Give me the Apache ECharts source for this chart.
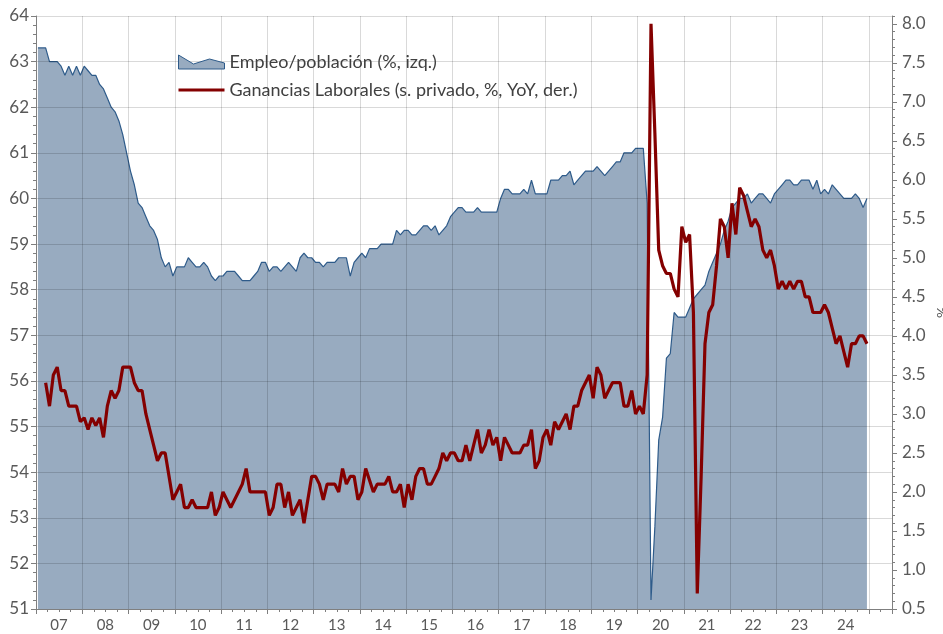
<!DOCTYPE html>
<html>
<head>
<meta charset="utf-8">
<script src="https://cdn.jsdelivr.net/npm/echarts@6/dist/echarts.min.js"></script>
<style>
html,body{margin:0;padding:0;background:#fff;}
#chart{width:943px;height:634px;}
</style>
</head>
<body>
<div id="chart"></div>
<script>
// ---- Data ----
const firstYear = 2007;
const monthCount = 222; // Jan 2007 .. Jun 2025 (axis extent)
const yearLabels = ['07','08','09','10','11','12','13','14','15','16','17','18','19','20','21','22','23','24'];
const seriesNames = ['Empleo/población (%, izq.)', 'Ganancias Laborales (s. privado, %, YoY, der.)'];

// Employment-population ratio, monthly Jan 2007 - Dec 2024 (%)
const epop = [
  63.3,63.3,63.3,63.0,63.0,63.0,62.9,62.7,62.9,62.7,62.9,62.7,
  62.9,62.8,62.7,62.7,62.5,62.4,62.2,62.0,61.9,61.7,61.4,61.0,
  60.6,60.3,59.9,59.8,59.6,59.4,59.3,59.1,58.7,58.5,58.6,58.3,
  58.5,58.5,58.5,58.7,58.6,58.5,58.5,58.6,58.5,58.3,58.2,58.3,
  58.3,58.4,58.4,58.4,58.3,58.2,58.2,58.2,58.3,58.4,58.6,58.6,
  58.4,58.5,58.5,58.4,58.5,58.6,58.5,58.4,58.7,58.8,58.7,58.7,
  58.6,58.6,58.5,58.6,58.6,58.6,58.7,58.7,58.7,58.3,58.6,58.7,
  58.8,58.7,58.9,58.9,58.9,59.0,59.0,59.0,59.0,59.3,59.2,59.3,
  59.3,59.2,59.2,59.3,59.4,59.4,59.3,59.4,59.2,59.3,59.4,59.6,
  59.7,59.8,59.8,59.7,59.7,59.7,59.8,59.7,59.7,59.7,59.7,59.7,
  60.0,60.2,60.2,60.1,60.1,60.1,60.2,60.1,60.4,60.1,60.1,60.1,
  60.1,60.4,60.4,60.4,60.5,60.5,60.6,60.3,60.4,60.5,60.6,60.6,
  60.6,60.7,60.6,60.5,60.6,60.7,60.8,60.8,61.0,61.0,61.0,61.1,
  61.1,61.1,59.9,51.2,52.8,54.7,55.2,56.5,56.6,57.5,57.4,57.4,
  57.4,57.6,57.8,57.9,58.0,58.1,58.4,58.6,58.8,59.0,59.3,59.5,
  59.8,59.9,60.0,60.0,60.1,59.9,60.0,60.1,60.1,60.0,59.9,60.1,
  60.2,60.3,60.4,60.4,60.3,60.3,60.4,60.4,60.4,60.2,60.4,60.1,
  60.2,60.1,60.3,60.2,60.1,60.0,60.0,60.0,60.1,60.0,59.8,60.0
];

// Average hourly earnings, private sector, YoY %, monthly Jan 2007 - Dec 2024
const earnings = [
  null,null,3.4,3.1,3.5,3.6,3.3,3.3,3.1,3.1,3.1,2.9,
  2.95,2.8,2.95,2.85,2.95,2.7,3.1,3.3,3.2,3.3,3.6,3.6,
  3.6,3.4,3.3,3.3,3.0,2.8,2.6,2.4,2.5,2.5,2.2,1.9,
  2.0,2.1,1.8,1.8,1.9,1.8,1.8,1.8,1.8,2.0,1.7,1.8,
  2.0,1.9,1.8,1.9,2.0,2.1,2.3,2.0,2.0,2.0,2.0,2.0,
  1.7,1.8,2.1,2.1,1.8,2.0,1.7,1.8,1.9,1.6,1.9,2.2,
  2.2,2.1,1.9,2.1,2.1,2.1,2.0,2.3,2.1,2.2,2.2,1.9,
  2.0,2.3,2.15,2.0,2.1,2.1,2.1,2.2,2.0,2.0,2.1,1.8,
  2.1,1.9,2.2,2.3,2.3,2.1,2.1,2.2,2.3,2.5,2.4,2.5,
  2.5,2.4,2.4,2.6,2.4,2.6,2.8,2.5,2.6,2.8,2.6,2.7,
  2.4,2.7,2.6,2.5,2.5,2.5,2.6,2.6,2.8,2.3,2.4,2.7,
  2.8,2.6,2.9,2.8,2.9,3.0,2.8,3.1,3.1,3.3,3.4,3.5,
  3.2,3.6,3.5,3.2,3.3,3.4,3.4,3.4,3.1,3.1,3.3,3.0,
  3.1,3.0,3.5,8.0,6.6,5.1,4.9,4.8,4.8,4.6,4.5,5.4,
  5.2,5.3,4.3,0.7,2.2,3.9,4.3,4.4,4.9,5.5,5.4,5.0,
  5.7,5.3,5.9,5.8,5.6,5.4,5.5,5.4,5.1,5.0,5.1,4.9,
  4.6,4.7,4.6,4.7,4.6,4.7,4.7,4.5,4.5,4.3,4.3,4.3,
  4.4,4.3,4.1,3.9,4.0,3.8,3.6,3.9,3.9,4.0,4.0,3.9
];

// ---- Build ----
const categories = [];
for (let k = 0; k < monthCount; k++) {
  const y = firstYear + Math.floor(k / 12);
  const m = (k % 12) + 1;
  categories.push(y + '-' + (m < 10 ? '0' + m : m));
}

const FONT = 'Lato';
const axisGrey = '#7f7f7f';
const gridColor = 'rgba(0,0,0,0.15)';
const labelColor = '#595959';

const chart = echarts.init(document.getElementById('chart'), null, {renderer: 'canvas'});
chart.setOption({
  animation: false,
  backgroundColor: '#ffffff',
  textStyle: {fontFamily: FONT},
  grid: {left: 36, right: 51, top: 16, bottom: 25, containLabel: false, outerBoundsMode: 'none'},
  legend: {
    orient: 'vertical',
    left: 178,
    top: 53,
    padding: 0,
    itemWidth: 46,
    itemHeight: 14,
    itemGap: 10,
    selectedMode: false,
    textStyle: {fontFamily: FONT, fontSize: 18, color: '#404040'},
    data: [
      {name: seriesNames[0], icon: 'path://M0,0 L15,9 L31,4 L46,8 L46,14 L0,14 Z',
       itemStyle: {color: '#98abc0', borderColor: '#2e5b8a', borderWidth: 1}},
      {name: seriesNames[1], icon: 'path://M0,0 M46,14 M0,5.5 L46,5.5 L46,8.5 L0,8.5 Z',
       itemStyle: {color: '#840000', borderWidth: 0}}
    ]
  },
  xAxis: [
    {
      type: 'category', data: categories, boundaryGap: true, z: 3,
      axisLine: {show: true, lineStyle: {color: axisGrey, width: 1}},
      axisTick: {show: true, length: 5, interval: (i) => i % 12 === 0, lineStyle: {color: axisGrey}},
      axisLabel: {
        show: true, interval: (i) => i % 12 === 6 && Math.floor(i / 12) < yearLabels.length,
        formatter: (v, i) => yearLabels[Math.floor(i / 12)] || '',
        color: labelColor, fontFamily: FONT, fontSize: 15, margin: 9, padding: [0, 4, 0, 0]
      },
      splitLine: {show: true, interval: (i) => i % 12 === 0, lineStyle: {color: gridColor, width: 1}}
    },
    {
      type: 'category', data: categories, boundaryGap: true, position: 'bottom', z: 3,
      axisLine: {show: false},
      axisTick: {show: true, length: 3, interval: (i) => i % 3 === 0, lineStyle: {color: axisGrey}},
      axisLabel: {show: false},
      splitLine: {show: false}
    }
  ],
  yAxis: [
    {
      type: 'value', min: 51, max: 64, interval: 1, position: 'left', z: 3,
      axisLine: {show: true, lineStyle: {color: axisGrey}},
      axisTick: {show: true, length: 5, lineStyle: {color: axisGrey}},
      minorTick: {show: true, splitNumber: 5, length: 3, lineStyle: {color: axisGrey}},
      axisLabel: {color: labelColor, fontFamily: FONT, fontSize: 17, margin: 7},
      splitLine: {show: true, lineStyle: {color: gridColor, width: 1}}
    },
    {
      type: 'value', min: 0.5, max: 8.1, interval: 0.5, position: 'right', z: 3,
      axisLine: {show: true, lineStyle: {color: axisGrey}},
      axisTick: {show: true, length: 5, lineStyle: {color: axisGrey}},
      axisLabel: {color: labelColor, fontFamily: FONT, fontSize: 17, margin: 10, showMaxLabel: false,
                  formatter: (v) => v.toFixed(1)},
      splitLine: {show: false},
      name: '%', nameLocation: 'middle', nameGap: 43, nameRotate: 90, nameMoveOverlap: false,
      nameTextStyle: {color: labelColor, fontFamily: FONT, fontSize: 14}
    },
    {
      type: 'value', min: 0.5, max: 8.1, interval: 0.1, position: 'right', z: 3,
      axisLine: {show: false},
      axisTick: {show: true, length: 3, lineStyle: {color: axisGrey}},
      axisLabel: {show: false},
      splitLine: {show: false}
    }
  ],
  series: [
    {
      name: seriesNames[0], type: 'line', xAxisIndex: 0, yAxisIndex: 0, data: epop,
      symbol: 'none', z: 2, silent: true,
      lineStyle: {color: '#2e5b8a', width: 1.2},
      itemStyle: {color: '#98abc0'},
      areaStyle: {color: '#98abc0', opacity: 1}
    },
    {
      name: seriesNames[1], type: 'line', xAxisIndex: 0, yAxisIndex: 1, data: earnings,
      symbol: 'none', z: 4, silent: true,
      lineStyle: {color: '#840000', width: 3.2},
      itemStyle: {color: '#840000'}
    }
  ]
});
</script>
</body>
</html>
